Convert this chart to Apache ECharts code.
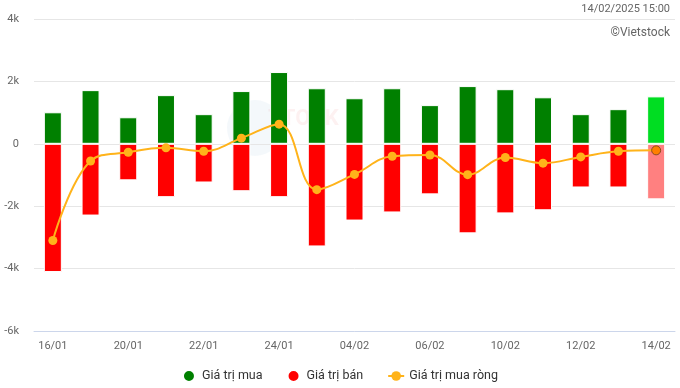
<!DOCTYPE html>
<html><head><meta charset="utf-8">
<script src="https://cdn.jsdelivr.net/npm/echarts@6/dist/echarts.min.js"></script>
<style>html,body{margin:0;padding:0;background:#fff}#c{width:680px;height:388px}</style>
</head><body><div id="c"></div>
<script>
const categories = ['16/01','17/01','20/01','21/01','22/01','23/01','24/01','03/02','04/02','05/02','06/02','07/02','10/02','11/02','12/02','13/02','14/02'];
const buyValues = [1010,1720,850,1560,950,1690,2300,1780,1460,1780,1240,1850,1750,1490,950,1110,1520];
const sellValues = [-4110,-2300,-1170,-1710,-1240,-1520,-1710,-3290,-2460,-2200,-1620,-2870,-2230,-2130,-1400,-1400,-1780];
const netValues = [-3100,-550,-270,-130,-240,180,630,-1470,-980,-400,-360,-990,-440,-620,-420,-240,-210];
const yTicks = {min:-6000, max:4000, interval:2000};

const chart = echarts.init(document.getElementById('c'), null, {renderer:'canvas'});
const last = categories.length - 1;
const buyData = buyValues.map((v,i)=> i===last ? {value:v, itemStyle:{color:'#00dd22'}} : v);
const sellData = sellValues.map((v,i)=> i===last ? {value:v, itemStyle:{color:'#ff8080'}} : v);
const netData = netValues.map((v,i)=> i===last ? {value:v, itemStyle:{color:'#ff7f00', borderColor:'#8a4a20', borderWidth:1}} : v);

chart.setOption({
  animation:false,
  textStyle:{fontFamily:'Roboto, "Noto Sans", sans-serif'},
  grid:{left:34, right:5, top:19, bottom:57, containLabel:false},
  graphic:[
    {type:'text', right:10, top:4, style:{text:'14/02/2025 15:00', fill:'#666', font:'11px Roboto, sans-serif'}},
    {type:'text', right:10, top:27, style:{text:'©Vietstock', fill:'#666', font:'12px Roboto, sans-serif'}},
    {type:'text', left:268, top:108, z:-1, style:{text:'TTOCK', fill:'rgba(230,60,60,0.07)', font:'bold 22px Roboto, sans-serif'}},
    {type:'circle', shape:{cx:255, cy:128, r:28}, z:-1, style:{fill:'rgba(120,160,210,0.08)'}}
  ],
  legend:{
    bottom:0, left:'center', itemGap:24, itemWidth:16, itemHeight:12,
    textStyle:{color:'#333', fontSize:12.5},
    data:[
      {name:'Giá trị mua', icon:'circle'},
      {name:'Giá trị bán', icon:'circle'},
      {name:'Giá trị mua ròng'}
    ]
  },
  xAxis:{
    type:'category', data:categories,
    axisLine:{onZero:false, lineStyle:{color:'#ccd6eb'}},
    axisTick:{show:false},
    axisLabel:{interval:1, color:'#666', fontSize:11, margin:10}
  },
  yAxis:{
    type:'value', min:yTicks.min, max:yTicks.max, interval:yTicks.interval,
    axisLabel:{color:'#666', fontSize:11, margin:15, formatter:v=> v===0 ? '0' : (v/1000)+'k'},
    splitLine:{lineStyle:{color:'#e6e6e6'}},
    axisLine:{show:false}, axisTick:{show:false}
  },
  series:[
    {name:'Giá trị mua', type:'bar', stack:'s', data:buyData, barWidth:18,
     itemStyle:{color:'#008000', borderColor:'#fff', borderWidth:1}},
    {name:'Giá trị bán', type:'bar', stack:'s', data:sellData, barWidth:18,
     itemStyle:{color:'#ff0000', borderColor:'#fff', borderWidth:1}},
    {name:'Giá trị mua ròng', type:'line', data:netData, smooth:0.4, z:5,
     symbol:'circle', symbolSize:9,
     lineStyle:{color:'#ffb31a', width:2}, itemStyle:{color:'#ffb31a'}}
  ]
});
</script></body></html>
